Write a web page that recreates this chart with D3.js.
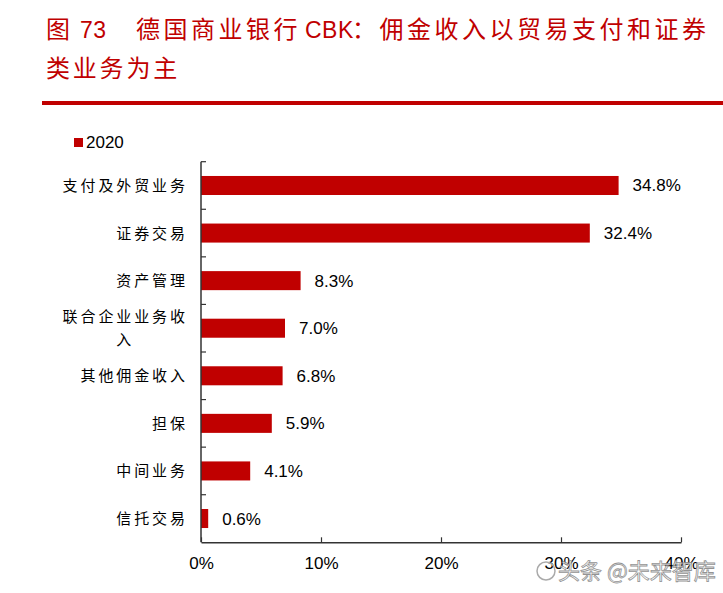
<!DOCTYPE html>
<html><head><meta charset="utf-8">
<script src="https://cdn.jsdelivr.net/npm/d3@7"></script>
<style>body{margin:0;background:#fff}svg{display:block}</style>
</head><body>
<svg id="c" width="723" height="593"></svg>
<script>
const titleSegments = [
  { text: "图", x: 46, latin: false },
  { text: "73", x: 80, latin: true },
  { text: "德国商业银行", x: 136, latin: false },
  { text: "CBK", x: 305, latin: true },
  { text: "：佣金收入以贸易支付和证券", x: 352, latin: false }
];
const titleLine2 = "类业务为主";
const categories = ["支付及外贸业务","证券交易","资产管理","联合企业业务收入","其他佣金收入","担保","中间业务","信托交易"];
const values = [34.8, 32.4, 8.3, 7.0, 6.8, 5.9, 4.1, 0.6];
const valueLabels = ["34.8%","32.4%","8.3%","7.0%","6.8%","5.9%","4.1%","0.6%"];
const seriesName = "2020";
const tickValues = [0, 10, 20, 30, 40];
const tickLabels = ["0%","10%","20%","30%","40%"];

const red = "#C00000";
const svg = d3.select("#c");
const cjk = "'Noto Sans CJK SC','Noto Sans CJK JP',sans-serif";
const lat = "'Liberation Sans',Arial,sans-serif";

// Title
const t1 = svg.append("text").attr("y", 38).attr("font-size", 24).attr("fill", red);
titleSegments.forEach(s => {
  t1.append("tspan").attr("x", s.x)
    .attr("font-family", s.latin ? lat : cjk)
    .attr("font-size", s.latin ? 23 : 24)
    .attr("letter-spacing", s.latin ? 0.5 : 3.5)
    .text(s.text);
});
svg.append("text").attr("x", 46).attr("y", 77)
  .attr("font-family", cjk).attr("font-size", 24).attr("fill", red)
  .attr("letter-spacing", 2.8)
  .text(titleLine2);
svg.append("rect").attr("x", 42).attr("y", 101).attr("width", 681).attr("height", 4).attr("fill", red);

// Scales
const x = d3.scaleLinear().domain([0, 40]).range([201, 681]);
const y = d3.scaleBand().domain(categories).range([161.7, 542.3]).paddingInner(0.6).paddingOuter(0.3);

// Legend
svg.append("rect").attr("x", 74).attr("y", 138).attr("width", 9).attr("height", 9).attr("fill", red);
svg.append("text").attr("x", 86).attr("y", 148).attr("font-family", lat).attr("font-size", 17).attr("fill", "#000").text(seriesName);

// Bars
svg.selectAll("rect.bar").data(values).enter().append("rect").attr("class", "bar")
  .attr("x", x(0)).attr("y", (d, i) => y(categories[i]))
  .attr("width", d => x(d) - x(0)).attr("height", y.bandwidth())
  .attr("fill", red);

// Value labels
svg.selectAll("text.val").data(values).enter().append("text").attr("class", "val")
  .attr("x", d => x(d) + 14).attr("y", (d, i) => y(categories[i]) + y.bandwidth() / 2 + 6)
  .attr("font-family", lat).attr("font-size", 17).attr("fill", "#000")
  .text((d, i) => valueLabels[i]);

// X axis
const xAxis = d3.axisBottom(x).tickValues(tickValues).tickSizeInner(-5).tickSizeOuter(0)
  .tickPadding(15).tickFormat((d, i) => tickLabels[i]);
const gx = svg.append("g").attr("transform", `translate(0,${y.range()[1]})`).call(xAxis);
gx.select(".domain").attr("stroke", "#333").attr("stroke-width", 1.5);
gx.selectAll(".tick line").attr("stroke", "#333").attr("stroke-width", 1.2);
gx.selectAll(".tick text").attr("font-family", lat).attr("font-size", 17).attr("fill", "#000");

// Y axis line and boundary ticks
const y0 = y.range()[0], y1 = y.range()[1];
svg.append("line").attr("x1", x(0)).attr("x2", x(0)).attr("y1", y0).attr("y2", y1)
  .attr("stroke", "#333").attr("stroke-width", 1.5);
const step = y.step();
svg.selectAll("line.ytick").data(d3.range(categories.length)).enter().append("line").attr("class", "ytick")
  .attr("x1", x(0)).attr("x2", x(0) + 5)
  .attr("y1", i => y(categories[i]) - step * 0.3).attr("y2", i => y(categories[i]) - step * 0.3)
  .attr("stroke", "#333").attr("stroke-width", 1.2);

// Category labels (wrap at 7 chars, lines centred in a right-aligned block)
const ls = 2.9, fs = 15, pitch = fs + ls, maxChars = 7, rightEdge = 185;
categories.forEach((c, i) => {
  const lines = [];
  for (let k = 0; k < c.length; k += maxChars) lines.push(c.slice(k, k + maxChars));
  const blockW = Math.max(...lines.map(l => l.length)) * pitch - ls;
  const cx = rightEdge - blockW / 2;
  const cy = y(categories[i]) + y.bandwidth() / 2;
  const lh = 23;
  lines.forEach((l, j) => {
    const w = l.length * pitch - ls;
    svg.append("text").attr("x", cx - w / 2)
      .attr("y", cy + (j - (lines.length - 1) / 2) * lh + 5.5)
      .attr("font-family", cjk).attr("font-size", fs).attr("letter-spacing", ls)
      .attr("fill", "#000").text(l);
  });
});

// Watermark
svg.append("text").attr("x", 558).attr("y", 579)
  .attr("font-family", cjk).attr("font-size", 22).attr("fill", "#fff")
  .attr("stroke", "#888").attr("stroke-width", 0.8).attr("opacity", 0.9)
  .text("头条 @未来智库");
svg.append("circle").attr("cx", 546).attr("cy", 571).attr("r", 9)
  .attr("fill", "none").attr("stroke", "#aaa").attr("stroke-width", 1.5);
</script>
</body></html>
